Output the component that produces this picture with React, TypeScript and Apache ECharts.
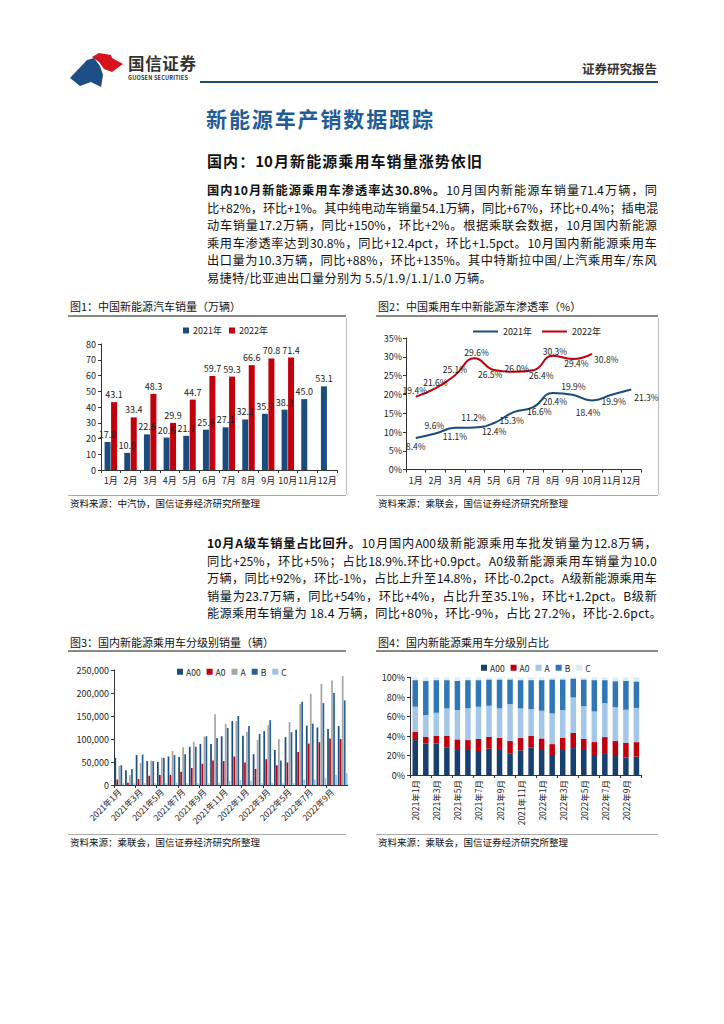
import React, { useEffect, useRef } from "react";
import * as echarts from "echarts";

const FONT = '"Noto Sans CJK SC", "Noto Sans", sans-serif';

// ---------- data ----------
const months12 = ["1月", "2月", "3月", "4月", "5月", "6月", "7月", "8月", "9月", "10月", "11月", "12月"];
const sales2021 = [17.8, 10.9, 22.6, 20.6, 21.7, 25.6, 27.1, 32.1, 35.7, 38.3, 45.0, 53.1];
const sales2022 = [43.1, 33.4, 48.3, 29.9, 44.7, 59.7, 59.3, 66.6, 70.8, 71.4, null, null];

const pen2021 = [8.4, 9.6, 11.1, 11.2, 12.4, 15.3, 16.6, 20.4, 19.9, 18.4, 19.9, 21.3];
const pen2022 = [19.4, 21.6, 25.1, 29.6, 26.5, 26.0, 26.4, 30.3, 29.4, 30.8];

const segMonths = [
  "2021年1月", "2021年2月", "2021年3月", "2021年4月", "2021年5月", "2021年6月", "2021年7月", "2021年8月",
  "2021年9月", "2021年10月", "2021年11月", "2021年12月", "2022年1月", "2022年2月", "2022年3月", "2022年4月",
  "2022年5月", "2022年6月", "2022年7月", "2022年8月", "2022年9月", "2022年10月",
];
const segNames = ["A00", "A0", "A", "B", "C"];
const salesA00 = [59000, 32000, 65000, 52000, 50000, 62000, 61000, 83000, 89000, 89000, 106000, 139000, 107000, 67000, 117000, 76000, 104000, 120000, 129000, 125000, 122000, 128000];
const salesA0 = [12000, 5000, 13000, 20000, 22000, 22000, 29000, 37000, 46000, 53000, 52000, 62000, 49000, 35000, 56000, 43000, 49000, 72000, 90000, 93000, 101000, 100000];
const salesA = [41000, 22000, 48000, 53000, 59000, 74000, 82000, 94000, 105000, 154000, 133000, 139000, 115000, 98000, 130000, 100000, 137000, 176000, 198000, 220000, 227000, 237000];
const salesB = [43000, 35000, 66000, 52000, 59000, 65000, 67000, 83000, 106000, 102000, 124000, 150000, 128000, 111000, 141000, 53000, 115000, 181000, 133000, 178000, 200000, 184000];
const salesC = [4000, 4000, 4000, 4000, 4000, 5000, 4000, 4000, 4000, 5000, 9000, 11000, 9000, 4000, 4000, 3000, 4000, 12000, 12000, 15000, 22000, 26000];

const shareA00 = [35.8, 32.4, 32.4, 28.0, 25.6, 26.6, 24.6, 27.0, 25.6, 22.2, 25.3, 28.0, 25.6, 20.5, 25.6, 27.6, 25.6, 20.5, 22.5, 19.5, 18.0, 18.9];
const shareA0 = [8.6, 6.8, 7.6, 12.0, 10.9, 9.2, 12.3, 12.2, 12.6, 12.6, 12.6, 12.0, 11.9, 11.2, 12.6, 15.7, 11.3, 13.3, 16.4, 15.3, 15.0, 14.8];
const shareA = [25.6, 22.2, 23.8, 28.3, 30.1, 32.5, 33.1, 31.8, 30.1, 37.9, 30.4, 27.6, 28.4, 31.4, 28.4, 36.2, 33.7, 31.4, 34.8, 34.8, 33.9, 35.1];
const shareB = [27.3, 35.2, 33.5, 29.0, 30.0, 29.0, 27.3, 27.0, 29.7, 25.3, 29.0, 29.7, 31.4, 34.9, 31.4, 19.5, 27.4, 32.1, 23.6, 26.6, 29.8, 27.2];
const shareC = [2.7, 3.4, 2.7, 2.7, 3.4, 2.7, 2.7, 2.0, 2.0, 2.0, 2.7, 2.7, 2.7, 2.0, 2.0, 1.0, 2.0, 2.7, 2.7, 3.8, 3.3, 4.0];

// ---------- styles for labels of fig 2 ----------
const pos2021 = ["bottom", "top", "bottom", "top", "bottom", "bottom", "bottom", "bottom", "top", "bottom", "bottom", "right"];
const off2021 = [[0, 0], [-1, 0], [0, 0], [-1, -2], [0, 0], [-2, 0], [6, -4], [2, 0], [1, 0], [-4, 3], [2, -2], [-1, 7]];
const pos2022 = ["top", "top", "top", "top", "bottom", "top", "bottom", "top", "bottom", "right"];
const off2022 = [[-1, 0], [0, 0], [0, 0], [2, 0], [-4, -2], [3, 2], [8, -2], [2, 2], [4, -2], [0, 5]];

const AX = "#333";
const axisCommon = {
  axisLine: { show: true, lineStyle: { color: AX, width: 1 } },
  axisTick: { show: true, length: 3, lineStyle: { color: AX } },
  splitLine: { show: false },
};

function opt1(): any {
  return {
    animation: false,
    textStyle: { fontFamily: FONT },
    legend: {
      top: 3, left: 116, itemWidth: 6, itemHeight: 6, itemGap: 7, icon: "rect",
      textStyle: { fontSize: 9, color: "#222", padding: [0, 0, 0, -1] },
      data: ["2021年", "2022年"],
    },
    grid: { left: 39, top: 26, width: 236, height: 126 },
    xAxis: {
      type: "category", data: months12, ...axisCommon,
      axisLabel: { fontSize: 9, color: "#222", margin: 6, interval: 0 },
    },
    yAxis: {
      type: "value", min: 0, max: 80, interval: 10, ...axisCommon,
      axisLabel: { fontSize: 9, color: "#222", margin: 5 },
    },
    series: [
      {
        name: "2021年", type: "bar", data: sales2021, barWidth: 6, barGap: "8%",
        itemStyle: { color: "#1b4c7e" },
        label: { show: true, position: "top", distance: 3, fontSize: 9, color: "#222", formatter: (p: any) => Number(p.value).toFixed(1) },
      },
      {
        name: "2022年", type: "bar", data: sales2022, barWidth: 6,
        itemStyle: { color: "#c0000c" },
        label: { show: true, position: "top", distance: 3, fontSize: 9, color: "#222", formatter: (p: any) => Number(p.value).toFixed(1) },
      },
    ],
  };
}

function opt2(): any {
  const lbl = { show: true, fontSize: 8.5, color: "#222", distance: 4, formatter: (p: any) => Number(p.value).toFixed(1) + "%" };
  return {
    animation: false,
    textStyle: { fontFamily: FONT },
    legend: {
      top: 4, left: 96, itemWidth: 25, itemHeight: 2, itemGap: 10, icon: "rect",
      textStyle: { fontSize: 9, color: "#222" },
      data: ["2021年", "2022年"],
    },
    grid: { left: 34, top: 20, width: 235, height: 131.6 },
    xAxis: {
      type: "category", data: months12, ...axisCommon,
      axisLabel: { fontSize: 9, color: "#222", margin: 6, interval: 0 },
    },
    yAxis: {
      type: "value", min: 0, max: 35, interval: 5, ...axisCommon,
      axisLabel: { fontSize: 9, color: "#222", margin: 4, formatter: "{value}%" },
    },
    series: [
      {
        name: "2021年", type: "line", smooth: true, symbol: "circle", symbolSize: 0.1, showSymbol: true,
        lineStyle: { color: "#1b4c7e", width: 2 }, itemStyle: { color: "#1b4c7e" },
        label: lbl,
        data: pen2021.map((v, i) => ({ value: v, label: { position: pos2021[i], offset: off2021[i] } })),
      },
      {
        name: "2022年", type: "line", smooth: true, symbol: "circle", symbolSize: 0.1, showSymbol: true,
        lineStyle: { color: "#c0000c", width: 2 }, itemStyle: { color: "#c0000c" },
        label: lbl,
        data: pen2022.map((v, i) => ({ value: v, label: { position: pos2022[i], offset: off2022[i], distance: 2 } })),
      },
    ],
  };
}

function opt3(): any {
  const colors = ["#1b4c7e", "#c0000c", "#a5a5a5", "#24609c", "#9dc3e6"];
  const vals = [salesA00, salesA0, salesA, salesB, salesC];
  return {
    animation: false,
    textStyle: { fontFamily: FONT },
    legend: {
      top: 7.5, left: 110, itemWidth: 6, itemHeight: 6, itemGap: 6, icon: "rect",
      textStyle: { fontSize: 8.5, color: "#222", padding: [0, 0, 0, -2] },
      data: segNames,
    },
    grid: { left: 52, top: 15, width: 234, height: 115 },
    xAxis: {
      type: "category", data: segMonths, ...axisCommon,
      axisTick: { show: true, length: 3, interval: 1, lineStyle: { color: AX } },
      axisLabel: { fontSize: 8.5, color: "#222", margin: 5, interval: 1, rotate: 45 },
    },
    yAxis: {
      type: "value", min: 0, max: 250000, interval: 50000, ...axisCommon,
      axisLabel: { fontSize: 9, color: "#222", margin: 5, formatter: (v: number) => v.toLocaleString("en-US") },
    },
    series: segNames.map((n, k) => ({
      name: n, type: "bar", data: vals[k], barWidth: 1.7, barGap: "18%",
      itemStyle: { color: colors[k] },
    })),
  };
}

function opt4(): any {
  const colors = ["#173f6f", "#c0000c", "#a4c6e8", "#3077b8", "#dcecf5"];
  const vals = [shareA00, shareA0, shareA, shareB, shareC];
  return {
    animation: false,
    textStyle: { fontFamily: FONT },
    legend: {
      top: 3.5, left: 104, itemWidth: 6, itemHeight: 6, itemGap: 6, icon: "rect",
      textStyle: { fontSize: 8.5, color: "#222", padding: [0, 0, 0, -2] },
      data: segNames,
    },
    grid: { left: 38, top: 22.5, width: 231.7, height: 97.5 },
    xAxis: {
      type: "category", data: segMonths, ...axisCommon,
      axisTick: { show: true, length: 3, interval: 1, lineStyle: { color: AX } },
      axisLabel: { fontSize: 8.5, color: "#222", margin: 5, interval: 1, rotate: 90 },
    },
    yAxis: {
      type: "value", min: 0, max: 100, interval: 20, ...axisCommon,
      axisLabel: { fontSize: 9, color: "#222", margin: 5, formatter: "{value}%" },
    },
    series: segNames.map((n, k) => ({
      name: n, type: "bar", stack: "share", data: vals[k], barWidth: 5.5,
      itemStyle: { color: colors[k] },
    })),
  };
}

// ---------- helpers ----------
function Chart({ left, top, width, height, option }: any) {
  const ref = useRef<HTMLDivElement>(null);
  useEffect(() => {
    const c = echarts.init(ref.current as HTMLDivElement, null, { renderer: "svg" });
    c.setOption(option);
    return () => c.dispose();
  }, []);
  return <div ref={ref} style={{ position: "absolute", left, top, width, height }} />;
}

type Seg = { t: string; b?: boolean };
function tokenize(segs: Seg[]) {
  const out: { t: string; b: boolean }[] = [];
  for (const s of segs) {
    let buf = "";
    for (const ch of Array.from(s.t)) {
      if (ch === " ") {
        if (buf) { out.push({ t: buf, b: !!s.b }); buf = ""; }
        continue;
      }
      if (ch.charCodeAt(0) < 128) buf += ch;
      else {
        if (buf) { out.push({ t: buf, b: !!s.b }); buf = ""; }
        out.push({ t: ch, b: !!s.b });
      }
    }
    if (buf) out.push({ t: buf, b: !!s.b });
  }
  return out;
}

function JLine({ x, y, w, fs, segs, color = "#111", weight = 400, lh = 18 }: any) {
  const toks = tokenize(segs);
  return (
    <div style={{
      position: "absolute", left: x, top: y - lh / 2, width: w, height: lh, display: "flex",
      justifyContent: "space-between", alignItems: "center", whiteSpace: "pre", fontSize: fs,
      color, fontWeight: weight, lineHeight: lh + "px",
    }}>
      {toks.map((t, i) => <span key={i} style={t.b ? { fontWeight: 700 } : undefined}>{t.t}</span>)}
    </div>
  );
}

function TLine({ x, y, fs, segs, color = "#111", weight = 400, lh = 18, ls = 0, align = "left", w }: any) {
  return (
    <div style={{
      position: "absolute", left: x, top: y - lh / 2, width: w, height: lh, whiteSpace: "pre", fontSize: fs,
      color, fontWeight: weight, lineHeight: lh + "px", letterSpacing: ls, textAlign: align,
    }}>
      {segs.map((s: Seg, i: number) => <span key={i} style={s.b ? { fontWeight: 700 } : undefined}>{s.t}</span>)}
    </div>
  );
}

function HLine({ x1, x2, y, h = 1, color = "#999" }: any) {
  return <div style={{ position: "absolute", left: x1, top: y - h / 2, width: x2 - x1, height: h, background: color }} />;
}
function VLine({ x, y1, y2, w = 1, color = "#bbb" }: any) {
  return <div style={{ position: "absolute", left: x - w / 2, top: y1, width: w, height: y2 - y1, background: color }} />;
}

const para1: Seg[][] = [
  [{ t: "国内 10 月新能源乘用车渗透率达 30.8%。", b: true }, { t: "10 月国内新能源车销量 71.4 万辆，同" }],
  [{ t: "比+82%，环比+1%。其中纯电动车销量 54.1 万辆，同比+67%，环比+0.4%；插电混" }],
  [{ t: "动车销量 17.2 万辆，同比+150%，环比+2%。根据乘联会数据，10 月国内新能源" }],
  [{ t: "乘用车渗透率达到 30.8%，同比+12.4pct，环比+1.5pct。10 月国内新能源乘用车" }],
  [{ t: "出口量为 10.3 万辆，同比+88%，环比+135%。其中特斯拉中国/上汽乘用车/东风" }],
];
const para1Last: Seg[] = [{ t: "易捷特/比亚迪出口量分别为 5.5/1.9/1.1/1.0 万辆。" }];
const para2: Seg[][] = [
  [{ t: "10 月 A 级车销量占比回升。", b: true }, { t: "10 月国内 A00 级新能源乘用车批发销量为 12.8 万辆，" }],
  [{ t: "同比+25%，环比+5%；占比 18.9%.环比+0.9pct。A0 级新能源乘用车销量为 10.0" }],
  [{ t: "万辆，同比+92%，环比-1%，占比上升至 14.8%，环比-0.2pct。A 级新能源乘用车" }],
  [{ t: "销量为 23.7 万辆，同比+54%，环比+4%，占比升至 35.1%，环比+1.2pct。B 级新" }],
];
const para2Last: Seg[] = [{ t: "能源乘用车销量为 18.4 万辆，同比+80%，环比-9%，占比 27.2%，环比-2.6pct。" }];

export default function App() {
  return (
    <div style={{
      position: "absolute", left: 0, top: 0, width: 724, height: 1024, background: "#fff",
      fontFamily: FONT, color: "#111", overflow: "hidden",
    }}>
      {/* header logo */}
      <svg style={{ position: "absolute", left: 0, top: 0 }} width={140} height={100}>
        <polygon points="92,57 99,53 111,55 112,58 123,64 112,72 104,69 99,62" fill="#d7131f" />
        <polygon points="70,78 87,60 94,58 100,66 103,75 101,87 91,82 80,86" fill="#1d4e86" />
      </svg>
      <JLine x={128} y={63} w={68} fs={16.5} weight={700} color="#333" segs={[{ t: "国信证券" }]} />
      <TLine x={128} y={78} fs={5.6} weight={700} color="#333" lh={8} ls={0.15} segs={[{ t: "GUOSEN SECURITIES" }]} />
      <TLine x={560} w={97} align="right" y={69} fs={12.5} weight={700} color="#333" segs={[{ t: "证券研究报告" }]} />
      <HLine x1={200} x2={658} y={82} h={2.5} color="#1f4e79" />

      <JLine x={206} y={118} w={227} fs={21} weight={700} color="#1f5c99" lh={26} segs={[{ t: "新能源车产销数据跟踪" }]} />
      <JLine x={207} y={161} w={275} fs={15} weight={700} color="#111" lh={20} segs={[{ t: "国内：10 月新能源乘用车销量涨势依旧" }]} />

      {para1.map((l, i) => (
        <JLine key={"p1" + i} x={207} y={190 + i * 17.5} w={450} fs={12.2} segs={l} />
      ))}
      <TLine x={207} y={190 + 5 * 17.5} fs={12.2} ls={0.3} segs={para1Last} />

      {/* figure 1/2 titles */}
      <TLine x={70} y={306} fs={11} segs={[{ t: "图1：中国新能源汽车销量（万辆）" }]} />
      <TLine x={378} y={306} fs={11} segs={[{ t: "图2：中国乘用车中新能源车渗透率（%）" }]} />
      <HLine x1={68} x2={346} y={316} h={1.5} color="#888" />
      <HLine x1={376} x2={658} y={316} h={1.5} color="#888" />
      <VLine x={346} y1={318} y2={495} />
      <VLine x={658} y1={318} y2={495} />
      <HLine x1={68} x2={346} y={495} h={1} color="#aaa" />
      <HLine x1={376} x2={658} y={495} h={1} color="#aaa" />
      <TLine x={70} y={503} fs={9.5} segs={[{ t: "资料来源：中汽协，国信证券经济研究所整理" }]} />
      <TLine x={378} y={503} fs={9.5} segs={[{ t: "资料来源：乘联会，国信证券经济研究所整理" }]} />

      <Chart left={62} top={318} width={284} height={176} option={opt1()} />
      <Chart left={372} top={318} width={292} height={176} option={opt2()} />

      {para2.map((l, i) => (
        <JLine key={"p2" + i} x={207} y={543 + i * 17.6} w={450} fs={12.2} segs={l} />
      ))}
      <TLine x={207} y={543 + 4 * 17.6} fs={12.2} ls={0.3} segs={para2Last} />

      {/* figure 3/4 */}
      <TLine x={70} y={642} fs={11} segs={[{ t: "图3：国内新能源乘用车分级别销量（辆）" }]} />
      <TLine x={378} y={642} fs={11} segs={[{ t: "图4：国内新能源乘用车分级别占比" }]} />
      <HLine x1={68} x2={346} y={651} h={1.5} color="#888" />
      <HLine x1={376} x2={658} y={651} h={1.5} color="#888" />
      <HLine x1={68} x2={346} y={834} h={1} color="#aaa" />
      <HLine x1={376} x2={658} y={834} h={1} color="#aaa" />
      <TLine x={70} y={842} fs={9.5} segs={[{ t: "资料来源：乘联会，国信证券经济研究所整理" }]} />
      <TLine x={378} y={842} fs={9.5} segs={[{ t: "资料来源：乘联会，国信证券经济研究所整理" }]} />

      <Chart left={62} top={655} width={286} height={178} option={opt3()} />
      <Chart left={372} top={655} width={286} height={178} option={opt4()} />
    </div>
  );
}
